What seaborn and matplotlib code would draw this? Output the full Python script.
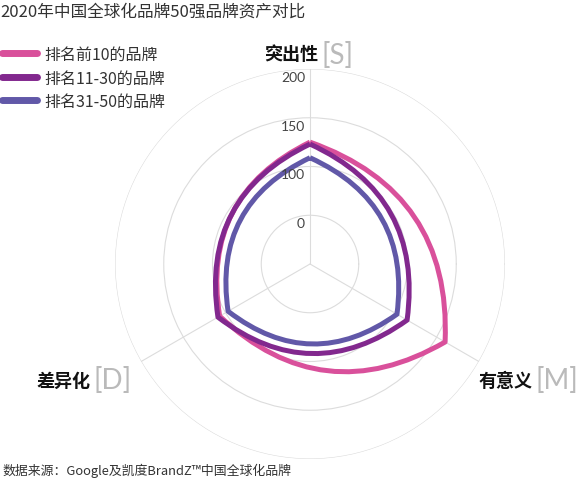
import numpy as np
import seaborn as sns
import matplotlib.pyplot as plt
from matplotlib.path import Path
from matplotlib.patches import PathPatch
from matplotlib.lines import Line2D
from matplotlib.transforms import offset_copy

# data (radius units, tick "0" sits on the 50 ring)
dimensions = ['突出性', '差异化', '有意义']
dim_codes = ['[S]', '[D]', '[M]']
series_names = ['排名前10的品牌', '排名11-30的品牌', '排名31-50的品牌']
top10 = [125, 107, 160]
rank_11_30 = [123, 109, 115]
rank_31_50 = [109, 97, 103]
r_ticks = [50, 100, 150, 200]
r_tick_labels = ['0', '100', '150', '200']

colors = ['#D9509B', '#82288E', '#6158A8']

sns.set_theme(style='white')
plt.rcParams['font.family'] = ['Noto Sans CJK SC', 'DejaVu Sans']

W, H = 588, 481
fig = plt.figure(figsize=(W / 100, H / 100), dpi=100)

# polar axes: centre at (310, 265) px, outer ring radius 195 px
cx, cy, R = 310, 265, 195
ax = fig.add_axes([(cx - R) / W, (H - cy - R) / H, 2 * R / W, 2 * R / H], projection='polar')
ax.set_facecolor('none')

angles = np.pi / 2 + 2 * np.pi * np.arange(len(dimensions)) / len(dimensions)


def curved_shape(values, bulge=0.37):
    # each edge is a quadratic bezier bowed outwards, corners at the data points
    pts = [(a, v) for a, v in zip(angles, values)]
    verts = [pts[0]]
    codes = [Path.MOVETO]
    for i in range(len(pts)):
        t0, r0 = pts[i]
        t1, r1 = pts[(i + 1) % len(pts)]
        p0 = np.array([r0 * np.cos(t0), r0 * np.sin(t0)])
        p1 = np.array([r1 * np.cos(t1), r1 * np.sin(t1)])
        d = p1 - p0
        c = (p0 + p1) / 2 + bulge * np.array([d[1], -d[0]])
        verts += [(np.arctan2(c[1], c[0]), np.hypot(c[0], c[1])), (t1, r1)]
        codes += [Path.CURVE3, Path.CURVE3]
    return Path(verts, codes)


for vals, col in zip([top10, rank_11_30, rank_31_50], colors):
    patch = PathPatch(curved_shape(vals), facecolor='none', edgecolor=col,
                      lw=3.6, joinstyle='round', transform=ax.transData, zorder=3)
    ax.add_patch(patch)

ax.set_ylim(0, 200)
ax.set_xticks(angles)
ax.set_xticklabels([])
ax.set_yticks(r_ticks)
ax.set_yticklabels([])
ax.grid(True, color='#dcdcdc', lw=0.8)
ax.spines['polar'].set_visible(False)

lab_tr = offset_copy(ax.transData, fig=fig, x=-5, y=-8, units='dots')
for r, lab in zip(r_ticks, r_tick_labels):
    ax.text(np.pi / 2, r, lab, transform=lab_tr, ha='right', va='center',
            fontsize=10, color='#444444', family=['Lato', 'DejaVu Sans'])

# axis names with grey letter codes
name_pos = [(318, 55), (90, 381), (533, 381)]
for (x, y), name, code in zip(name_pos, dimensions, dim_codes):
    fig.text(x / W, 1 - y / H, name, ha='right', va='center', fontsize=13,
             fontweight='bold', color='#111111')
    fig.text((x + 3) / W, 1 - y / H, code, ha='left', va='center', fontsize=20,
             color='#bababa', family=['Lato', 'DejaVu Sans'])

fig.text(0 / W, 1 - 12 / H, '2020年中国全球化品牌50强品牌资产对比', ha='left', va='center',
         fontsize=12, color='#333333')
fig.text(2 / W, 1 - 471 / H, '数据来源：Google及凯度BrandZ™中国全球化品牌', ha='left',
         va='center', fontsize=9.3, color='#333333')

handles = [Line2D([], [], color=c, lw=5, solid_capstyle='round') for c in colors]
fig.legend(handles, series_names, loc='upper left', bbox_to_anchor=(2 / W, 1 - 47 / H),
           frameon=False, fontsize=11.5, handlelength=2.2, handletextpad=0.45,
           labelspacing=0.4, borderpad=0, borderaxespad=0, labelcolor='#333333')

fig.savefig('out.png', dpi=100)
